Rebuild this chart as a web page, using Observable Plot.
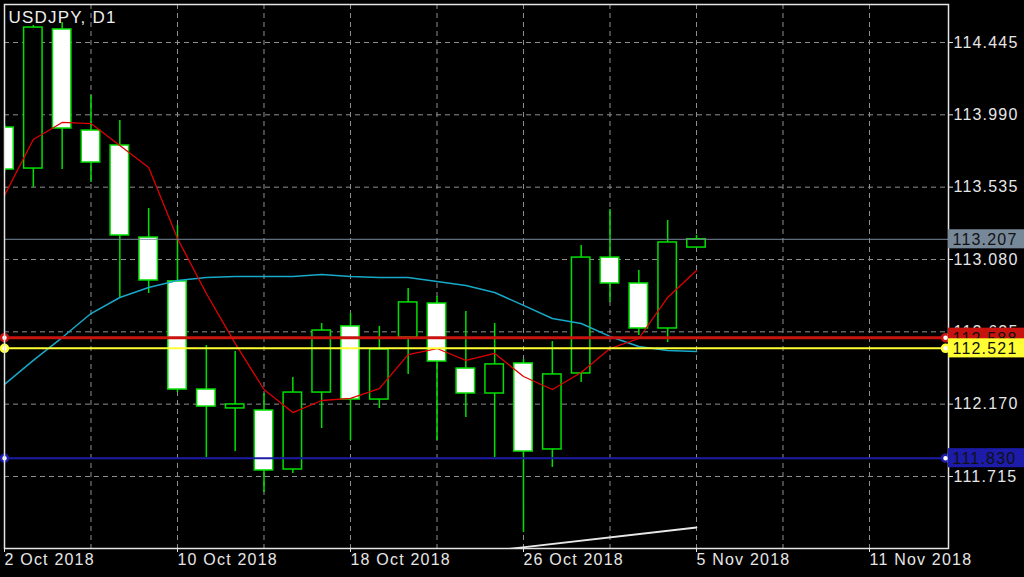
<!DOCTYPE html>
<html>
<head>
<meta charset="utf-8">
<script src="https://cdn.jsdelivr.net/npm/d3@7"></script>
<script src="https://cdn.jsdelivr.net/npm/@observablehq/plot@0.6"></script>
<style>
html, body { margin:0; padding:0; background:#000; overflow:hidden; }
#chart { width:1024px; height:577px; }
</style>
</head>
<body>
<div id="chart"></div>
<script>
// ---- data (USDJPY, D1) ----
const dates = ["2018-10-02","2018-10-03","2018-10-04","2018-10-05","2018-10-08","2018-10-09","2018-10-10","2018-10-11","2018-10-12","2018-10-15","2018-10-16","2018-10-17","2018-10-18","2018-10-19","2018-10-22","2018-10-23","2018-10-24","2018-10-25","2018-10-26","2018-10-29","2018-10-30","2018-10-31","2018-11-01","2018-11-02","2018-11-05"];
const opens  = [113.910,113.652,114.527,113.891,113.797,113.218,112.942,112.262,112.143,112.130,111.759,112.243,112.659,112.199,112.589,112.803,112.394,112.237,112.426,111.885,112.363,113.092,112.929,112.646,113.155];
const highs  = [113.929,114.552,114.571,114.112,113.954,113.401,113.294,112.539,112.501,112.237,112.338,112.677,112.740,112.659,112.898,112.847,112.753,112.677,112.451,112.564,113.168,113.394,113.011,113.325,113.231];
const lows   = [113.627,113.533,113.646,113.564,112.835,112.866,112.243,111.834,111.872,111.614,111.734,112.017,111.941,112.143,112.357,111.941,112.086,111.834,111.363,111.772,112.306,112.810,112.602,112.558,113.155];
const closes = [113.646,114.539,113.904,113.690,113.231,112.948,112.262,112.155,112.168,111.753,112.243,112.633,112.199,112.514,112.810,112.438,112.237,112.420,111.872,112.357,113.092,112.929,112.646,113.187,113.207];
const maFast = [113.483,113.835,113.942,113.935,113.797,113.659,113.212,112.866,112.552,112.262,112.117,112.193,112.206,112.268,112.482,112.520,112.445,112.489,112.344,112.262,112.369,112.520,112.583,112.841,113.011];
const maSlow = [112.294,112.445,112.589,112.740,112.841,112.904,112.948,112.967,112.973,112.973,112.973,112.986,112.973,112.967,112.967,112.942,112.916,112.872,112.791,112.709,112.677,112.596,112.533,112.508,112.501];

const xTickIdx    = [0, 6, 12, 18, 24, 30];
const xTickLabels = ["2 Oct 2018","10 Oct 2018","18 Oct 2018","26 Oct 2018","5 Nov 2018","11 Nov 2018"];
const xGridIdx    = [3, 6, 9, 12, 15, 18, 21, 24, 27, 30];
const yTicks      = [114.445, 113.990, 113.535, 113.080, 112.625, 112.170, 111.715];

const levelNames  = ["bid", "red", "yellow", "blue"];
const levelValues = [113.207, 112.588, 112.521, 111.830];
const levelColors = ["#778899", "#c8140f", "#ffff33", "#1c1ca8"];

const trendIdx  = [17, 24];
const trendVals = [111.249, 111.394];

const title = "USDJPY, D1";

// ---- build tables ----
const candles = dates.map((d, i) => ({i, d, o: opens[i], h: highs[i], l: lows[i], c: closes[i]}));
const bulls = candles.filter(d => d.c >= d.o);
const bears = candles.filter(d => d.c < d.o);
const fast = maFast.map((v, i) => ({i, v}));
const slow = maSlow.map((v, i) => ({i, v}));
const levels = levelNames.map((n, k) => ({n, v: levelValues[k], color: levelColors[k]}));
const trend = trendIdx.map((x, k) => ({x, v: trendVals[k]}));

const X0 = 0, X1 = 32.74;
const Y0 = 111.262, Y1 = 114.684;
const HW = 0.32;      // half candle body width (bars)
const BOX = 0.06;     // half label box height (price)
const GREEN = "#00e000";

const widths = {bid: 1, red: 3, yellow: 2, blue: 2};

const labelMarks = levels.flatMap(l => [
  Plot.rect([l], {x1: X1, x2: X1 + 2.8, y1: d => d.v - BOX, y2: d => d.v + BOX, fill: d => d.color}),
  Plot.text([l], {x: X1, y: "v", text: d => d.v.toFixed(3), textAnchor: "start", dx: 4, dy: 1, fill: "#111", fontSize: 16})
]);

const chart = Plot.plot({
  width: 1024, height: 577,
  marginLeft: 4, marginRight: 76, marginTop: 4, marginBottom: 29,
  style: {background: "#000", color: "#e6e6e6", fontFamily: "'Liberation Sans', Arial, sans-serif", fontSize: "16px", letterSpacing: "1.2px"},
  color: {type: "identity"},
  x: {domain: [X0, X1], axis: null},
  y: {domain: [Y0, Y1], axis: null},
  marks: [
    Plot.gridY(yTicks, {stroke: "#909090", strokeOpacity: 1, strokeDasharray: "5,4"}),
    Plot.gridX(xGridIdx, {stroke: "#909090", strokeOpacity: 1, strokeDasharray: "5,4"}),
    Plot.ruleX(candles, {x: "i", y1: "l", y2: "h", stroke: GREEN, strokeWidth: 1.5, clip: true}),
    Plot.rect(bulls, {x1: d => d.i - HW, x2: d => d.i + HW, y1: "o", y2: "c", fill: "#000", stroke: GREEN, strokeWidth: 1.5, clip: true}),
    Plot.rect(bears, {x1: d => d.i - HW, x2: d => d.i + HW, y1: "o", y2: "c", fill: "#fff", stroke: GREEN, strokeWidth: 1.5, clip: true}),
    Plot.line(slow, {x: "i", y: "v", stroke: "#17a9c9", strokeWidth: 1.5, clip: true}),
    Plot.line(fast, {x: "i", y: "v", stroke: "#e00000", strokeWidth: 1.3, clip: true}),
    Plot.ruleY(levels, {y: "v", stroke: "color", strokeWidth: d => widths[d.n]}),
    Plot.line(trend, {x: "x", y: "v", stroke: "#e8e8e8", strokeWidth: 1.8, clip: true}),
    Plot.dot(levels.filter(d => d.n !== "bid"), {x: X0, y: "v", r: 3.5, fill: "#fff", stroke: "color", strokeWidth: 2.5}),
    Plot.dot(levels.filter(d => d.n !== "bid"), {x: X1, y: "v", r: 3.5, dx: -3, fill: "#fff", stroke: "color", strokeWidth: 2.5}),
    Plot.frame({stroke: "#e4e4e4", strokeWidth: 1.5}),
    Plot.axisY(yTicks, {anchor: "right", tickFormat: d => d.toFixed(3), tickSize: 4, tickPadding: 1, label: null, fontSize: 16}),
    Plot.axisX(xTickIdx, {anchor: "bottom", tickFormat: d => xTickLabels[xTickIdx.indexOf(d)], textAnchor: "start", tickSize: 4, tickPadding: 1, label: null, fontSize: 16}),
    ...labelMarks,
    Plot.text([title], {frameAnchor: "top-left", dx: 4, dy: 6, lineAnchor: "top", textAnchor: "start", fill: "#eeeeee", fontSize: 17, letterSpacing: "0px"})
  ]
});
document.getElementById("chart").appendChild(chart);
</script>
</body>
</html>
